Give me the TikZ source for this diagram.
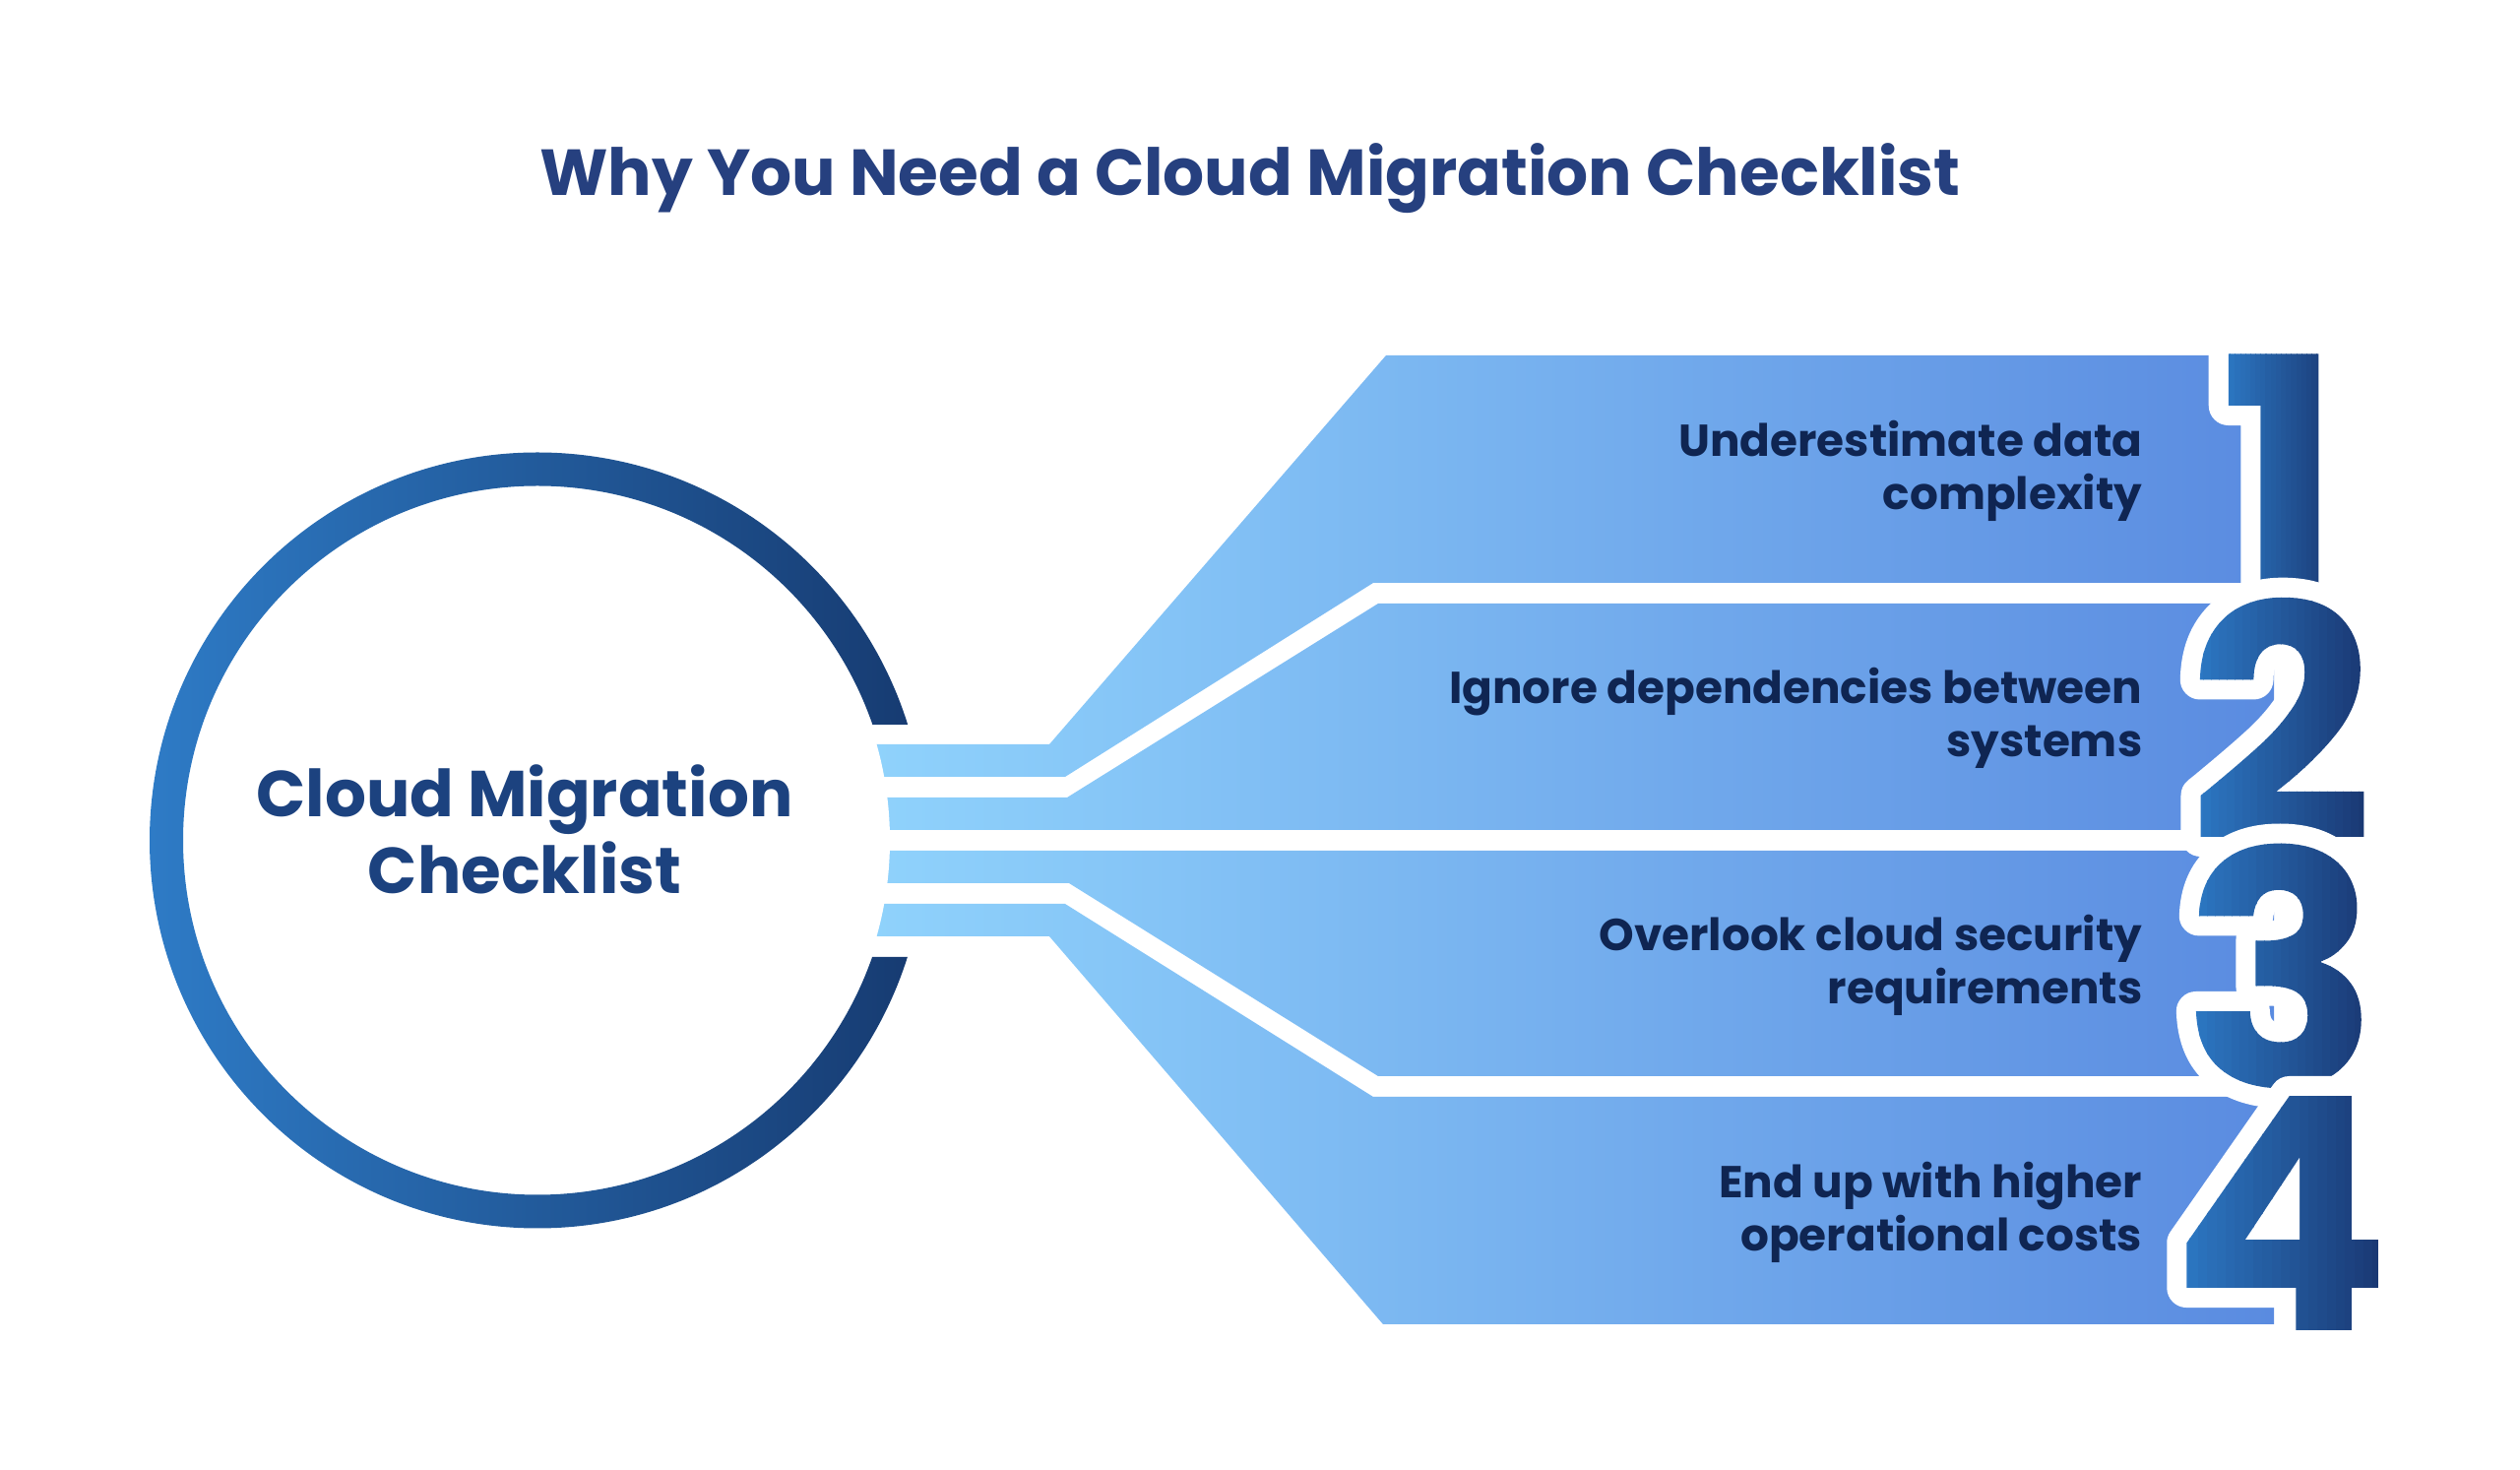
\documentclass[tikz,border=0pt]{standalone}
\usepackage{fontspec}
\setmainfont{Poppins}
\newfontfamily\numfont{Poppins}
\usepackage{tikz}
\usetikzlibrary{calc}

\definecolor{TitleBlue}{HTML}{26407F}
\definecolor{HubBlue}{HTML}{1C427F}
\definecolor{ItemInk}{HTML}{0F2552}
\definecolor{BandLight}{HTML}{90D3FC}
\definecolor{BandDark}{HTML}{5A8BE0}
\definecolor{RingLight}{HTML}{2E7BC6}
\definecolor{RingDark}{HTML}{163A70}
\definecolor{NumLight}{HTML}{2D7AC6}
\definecolor{NumDark}{HTML}{193670}

% white halo round a digit (stroked glyph)
\newcommand\halodigit[1]{%
  \special{pdf:bcontent}%
  \special{pdf:literal direct 1 1 1 RG 11.4 w 1 j 2 Tr}%
  #1%
  \special{pdf:literal direct 0 Tr}%
  \special{pdf:econtent}}
% digit used as clip, filled with colour strips
\newlength\numwd
\newcommand\graddigit[1]{%
  \settowidth\numwd{#1}%
  \special{pdf:bcontent}%
  \special{pdf:literal direct 7 Tr}%
  \rlap{#1}%
  \special{pdf:literal direct 0 Tr}%
  \foreach \k in {0,...,23}{%
    \pgfmathtruncatemacro\pct{\k*100/23}%
    \rlap{\kern\k\dimexpr\numwd/24\relax
      \textcolor{NumDark!\pct!NumLight}{\rule[-0.05em]{\dimexpr\numwd/24+0.3pt\relax}{0.8em}}}%
  }%
  \special{pdf:econtent}%
  \hbox to \numwd{}}

\tikzset{
  itemtext/.style={anchor=east, align=right, text=ItemInk, inner sep=0pt,
    font=\fontsize{12.9}{15.4}\selectfont\bfseries},
  bignum/.style={inner sep=0pt, text=white, font=\fontsize{94}{94}\selectfont\numfont\bfseries},
  bandshade/.style={left color=BandLight, right color=BandDark}
}

\begin{document}
\begin{tikzpicture}
  \useasboundingbox (0,0) rectangle (25.6,14.92);
  % Title
  \node[anchor=base, text=TitleBlue, font=\fontsize{18.8}{22}\selectfont\bfseries] (title)
    at (12.70,12.93) {Why You Need a Cloud Migration Checklist};

  % Bands fanning out into the four boxes
  \shade[bandshade] (8.7,7.36) -- (10.66,7.36) -- (14.08,11.31) -- (23.10,11.31)
    -- (23.10,9.00) -- (13.95,9.00) -- (10.82,7.03) -- (8.7,7.03) -- cycle;
  \shade[bandshade] (8.7,6.82) -- (10.84,6.82) -- (14.00,8.79) -- (23.10,8.79)
    -- (23.10,6.49) -- (8.7,6.49) -- cycle;
  \shade[bandshade] (8.7,6.28) -- (23.10,6.28) -- (23.10,3.99) -- (14.00,3.99)
    -- (10.86,5.95) -- (8.7,5.95) -- cycle;
  \shade[bandshade] (8.7,5.74) -- (10.82,5.74) -- (13.95,3.78) -- (23.10,3.78)
    -- (23.10,1.47) -- (14.05,1.47) -- (10.66,5.41) -- (8.7,5.41) -- cycle;

  % Hub circle
  \coordinate (hubc) at (5.46,6.385);
  \fill[white] (hubc) circle (3.58);
  \begin{scope}
    \clip (0,0) -- (0,14.92) -- (12,14.92) -- (12,7.56) -- (5.46,7.56)
      -- (5.46,5.20) -- (12,5.20) -- (12,0) -- cycle;
    \shade[left color=RingLight, right color=RingDark, even odd rule]
      (hubc) circle (3.94) (hubc) circle (3.60);
  \end{scope}
  \node[align=center, text=HubBlue, font=\fontsize{18.75}{22.2}\selectfont\bfseries] (hub)
    at (5.33,6.50) {Cloud Migration\\Checklist};

  % Items
  \node[itemtext] (t1) at (21.77,10.14) {Underestimate data\\complexity};
  \node[itemtext] (t2) at (21.77,7.63) {Ignore dependencies between\\systems};
  \node[itemtext] (t3) at (21.77,5.12) {Overlook cloud security\\requirements};
  \node[itemtext] (t4) at (21.77,2.61) {End up with higher\\operational costs};

  % Big numbers: white halo under a gradient fill
  \foreach \d/\y in {1/10.12, 2/7.62, 3/5.11, 4/2.60}
    \node[bignum] (n\d) at (23.17,\y) {\halodigit{\d}\smash{\llap{\graddigit{\d}}}};
\end{tikzpicture}
\end{document}
